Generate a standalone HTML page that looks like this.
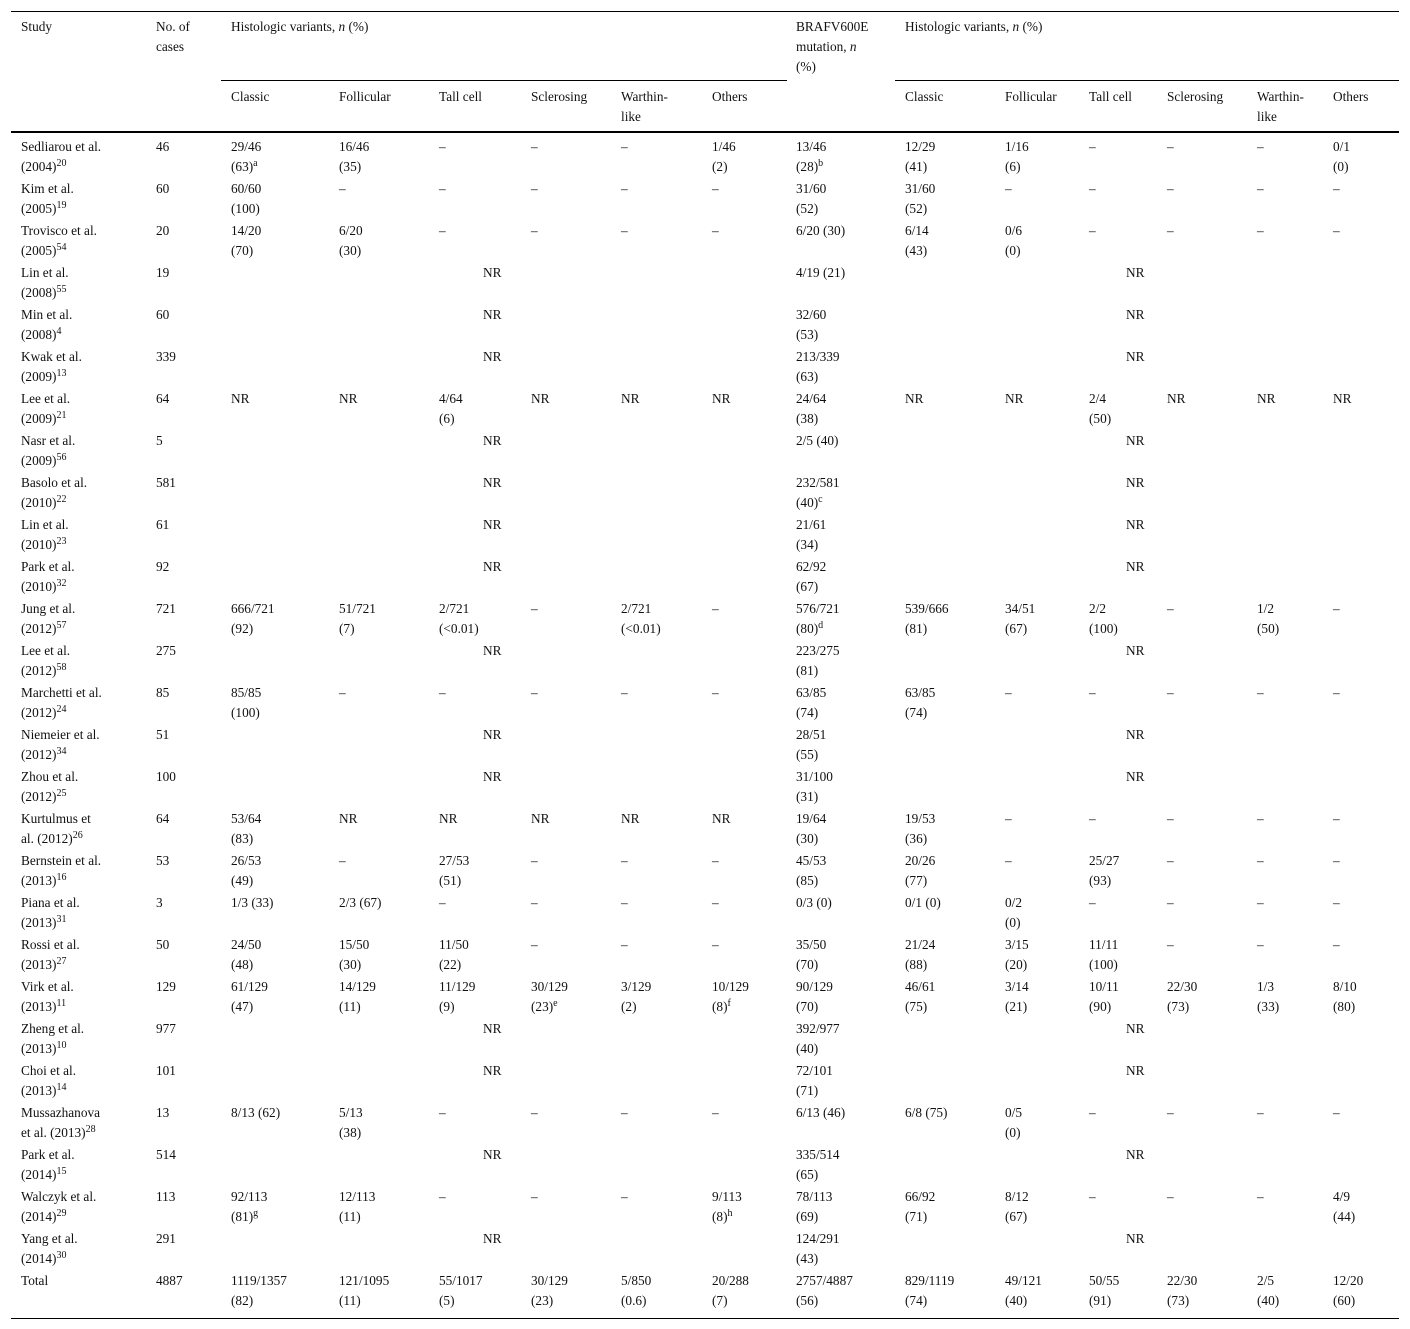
<!DOCTYPE html>
<html><head><meta charset="utf-8">
<style>
body{margin:0;background:#fff;width:1410px;height:1329px;position:relative;overflow:hidden;font-family:"Liberation Serif",serif;font-size:13.3px;color:#111;}
.c{position:absolute;line-height:20px;white-space:nowrap;}
.l{position:absolute;background:#000;}
sup{font-size:10px;line-height:0;vertical-align:5px;}
</style></head><body>
<div class="l" style="left:11px;top:11px;width:1388px;height:1px"></div>
<div class="l" style="left:221px;top:80px;width:566px;height:1px"></div>
<div class="l" style="left:895px;top:80px;width:504px;height:1px"></div>
<div class="l" style="left:11px;top:131px;width:1388px;height:1.5px"></div>
<div class="l" style="left:11px;top:1318px;width:1388px;height:1px"></div>
<div class="c" style="left:21px;top:17px">Study</div>
<div class="c" style="left:156px;top:17px">No. of<br>cases</div>
<div class="c" style="left:231px;top:17px">Histologic variants, <i>n</i> (%)</div>
<div class="c" style="left:796px;top:17px">BRAFV600E<br>mutation, <i>n</i><br>(%)</div>
<div class="c" style="left:905px;top:17px">Histologic variants, <i>n</i> (%)</div>
<script>
const colX=[21,156,231,339,439,531,621,712,796,905,1005,1089,1167,1257,1333];
const sub=["Classic","Follicular","Tall cell","Sclerosing","Warthin-<br>like","Others"];
sub.forEach((s,i)=>{[2,9].forEach(o=>{const d=document.createElement('div');d.className='c';d.style.left=colX[o+i]+'px';d.style.top='87px';d.innerHTML=s;


document.body.appendChild(d);});});
const D="–";
const rows=[
["Sedliarou et al.<br>(2004)<sup>20</sup>","46","29/46<br>(63)<sup>a</sup>","16/46<br>(35)",D,D,D,"1/46<br>(2)","13/46<br>(28)<sup>b</sup>","12/29<br>(41)","1/16<br>(6)",D,D,D,"0/1<br>(0)"],
["Kim et al.<br>(2005)<sup>19</sup>","60","60/60<br>(100)",D,D,D,D,D,"31/60<br>(52)","31/60<br>(52)",D,D,D,D,D],
["Trovisco et al.<br>(2005)<sup>54</sup>","20","14/20<br>(70)","6/20<br>(30)",D,D,D,D,"6/20 (30)","6/14<br>(43)","0/6<br>(0)",D,D,D,D],
["Lin et al.<br>(2008)<sup>55</sup>","19","NR","4/19 (21)"],
["Min et al.<br>(2008)<sup>4</sup>","60","NR","32/60<br>(53)"],
["Kwak et al.<br>(2009)<sup>13</sup>","339","NR","213/339<br>(63)"],
["Lee et al.<br>(2009)<sup>21</sup>","64","NR","NR","4/64<br>(6)","NR","NR","NR","24/64<br>(38)","NR","NR","2/4<br>(50)","NR","NR","NR"],
["Nasr et al.<br>(2009)<sup>56</sup>","5","NR","2/5 (40)"],
["Basolo et al.<br>(2010)<sup>22</sup>","581","NR","232/581<br>(40)<sup>c</sup>"],
["Lin et al.<br>(2010)<sup>23</sup>","61","NR","21/61<br>(34)"],
["Park et al.<br>(2010)<sup>32</sup>","92","NR","62/92<br>(67)"],
["Jung et al.<br>(2012)<sup>57</sup>","721","666/721<br>(92)","51/721<br>(7)","2/721<br>(&lt;0.01)",D,"2/721<br>(&lt;0.01)",D,"576/721<br>(80)<sup>d</sup>","539/666<br>(81)","34/51<br>(67)","2/2<br>(100)",D,"1/2<br>(50)",D],
["Lee et al.<br>(2012)<sup>58</sup>","275","NR","223/275<br>(81)"],
["Marchetti et al.<br>(2012)<sup>24</sup>","85","85/85<br>(100)",D,D,D,D,D,"63/85<br>(74)","63/85<br>(74)",D,D,D,D,D],
["Niemeier et al.<br>(2012)<sup>34</sup>","51","NR","28/51<br>(55)"],
["Zhou et al.<br>(2012)<sup>25</sup>","100","NR","31/100<br>(31)"],
["Kurtulmus et<br>al. (2012)<sup>26</sup>","64","53/64<br>(83)","NR","NR","NR","NR","NR","19/64<br>(30)","19/53<br>(36)",D,D,D,D,D],
["Bernstein et al.<br>(2013)<sup>16</sup>","53","26/53<br>(49)",D,"27/53<br>(51)",D,D,D,"45/53<br>(85)","20/26<br>(77)",D,"25/27<br>(93)",D,D,D],
["Piana et al.<br>(2013)<sup>31</sup>","3","1/3 (33)","2/3 (67)",D,D,D,D,"0/3 (0)","0/1 (0)","0/2<br>(0)",D,D,D,D],
["Rossi et al.<br>(2013)<sup>27</sup>","50","24/50<br>(48)","15/50<br>(30)","11/50<br>(22)",D,D,D,"35/50<br>(70)","21/24<br>(88)","3/15<br>(20)","11/11<br>(100)",D,D,D],
["Virk et al.<br>(2013)<sup>11</sup>","129","61/129<br>(47)","14/129<br>(11)","11/129<br>(9)","30/129<br>(23)<sup>e</sup>","3/129<br>(2)","10/129<br>(8)<sup>f</sup>","90/129<br>(70)","46/61<br>(75)","3/14<br>(21)","10/11<br>(90)","22/30<br>(73)","1/3<br>(33)","8/10<br>(80)"],
["Zheng et al.<br>(2013)<sup>10</sup>","977","NR","392/977<br>(40)"],
["Choi et al.<br>(2013)<sup>14</sup>","101","NR","72/101<br>(71)"],
["Mussazhanova<br>et al. (2013)<sup>28</sup>","13","8/13 (62)","5/13<br>(38)",D,D,D,D,"6/13 (46)","6/8 (75)","0/5<br>(0)",D,D,D,D],
["Park et al.<br>(2014)<sup>15</sup>","514","NR","335/514<br>(65)"],
["Walczyk et al.<br>(2014)<sup>29</sup>","113","92/113<br>(81)<sup>g</sup>","12/113<br>(11)",D,D,D,"9/113<br>(8)<sup>h</sup>","78/113<br>(69)","66/92<br>(71)","8/12<br>(67)",D,D,D,"4/9<br>(44)"],
["Yang et al.<br>(2014)<sup>30</sup>","291","NR","124/291<br>(43)"],
["Total","4887","1119/1357<br>(82)","121/1095<br>(11)","55/1017<br>(5)","30/129<br>(23)","5/850<br>(0.6)","20/288<br>(7)","2757/4887<br>(56)","829/1119<br>(74)","49/121<br>(40)","50/55<br>(91)","22/30<br>(73)","2/5<br>(40)","12/20<br>(60)"]
];
function cell(x,y,h){const d=document.createElement('div');d.className='c';d.style.left=x+'px';d.style.top=y+'px';d.innerHTML=h;


document.body.appendChild(d);}
rows.forEach((r,i)=>{const y=137+42*i;
if(r.length===4){cell(colX[0],y,r[0]);cell(colX[1],y,r[1]);cell(483,y,"NR");cell(colX[8],y,r[3]);cell(1126,y,"NR");}
else r.forEach((v,j)=>cell(colX[j],y,v));});
</script>
</body></html>
